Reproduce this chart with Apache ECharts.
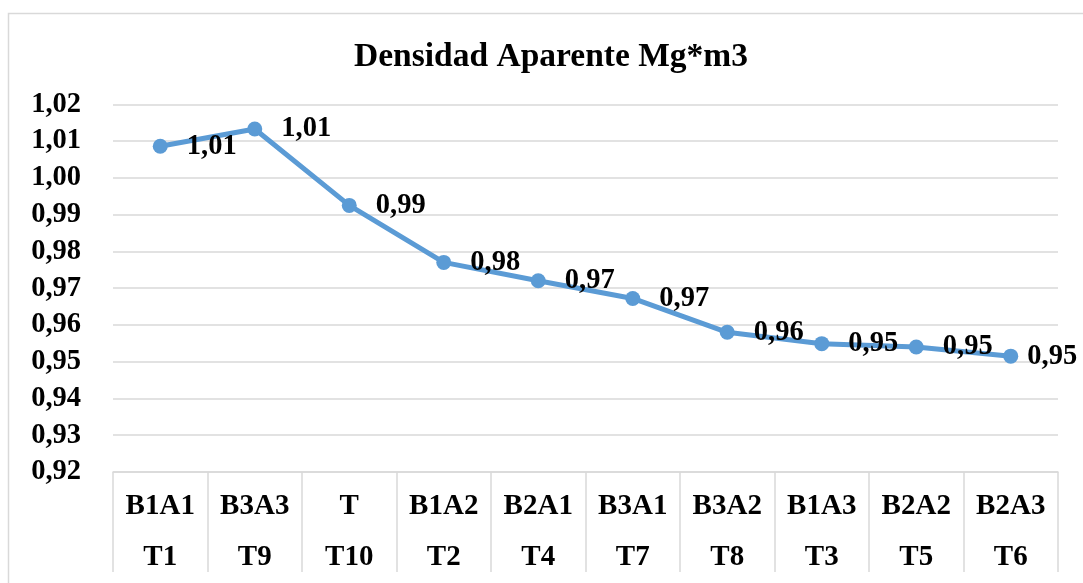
<!DOCTYPE html>
<html>
<head>
<meta charset="utf-8">
<script src="https://cdn.jsdelivr.net/npm/echarts@6/dist/echarts.min.js"></script>
<style>
html,body{margin:0;padding:0;background:#fff;}
#chart{width:1083px;height:583px;}
</style>
</head>
<body>
<div id="chart"></div>
<script>
const titleText = 'Densidad Aparente Mg*m3';
const treatments = ['B1A1','B3A3','T','B1A2','B2A1','B3A1','B3A2','B1A3','B2A2','B2A3'];
const codes = ['T1','T9','T10','T2','T4','T7','T8','T3','T5','T6'];
const density = [1.0086, 1.0133, 0.9925, 0.977, 0.972, 0.9672, 0.958, 0.9549, 0.954, 0.9515];
const yMin = 0.92, yMax = 1.02, yStep = 0.01;

const categories = treatments.map((t, i) => t + '\n' + codes[i]);
const fmt = v => v.toFixed(2).replace('.', ',');
const FONT = '"Liberation Serif", "Times New Roman", serif';

const seriesData = density.map((v, i) => i === density.length - 1
  ? {value: v, label: {distance: 9}}
  : v);

const chart = echarts.init(document.getElementById('chart'), null, {renderer: 'canvas'});
chart.setOption({
  backgroundColor: '#ffffff',
  animation: false,
  title: {
    text: titleText,
    left: 546,
    top: 35,
    textAlign: 'center',
    textStyle: {fontFamily: FONT, fontWeight: 'bold', fontSize: 33.5, color: '#000'}
  },
  graphic: [{
    type: 'rect',
    shape: {x: 8.5, y: 13.5, width: 1200, height: 700},
    style: {fill: 'none', stroke: '#d9d9d9', lineWidth: 1.5},
    silent: true
  }],
  grid: {left: 113, right: 25, top: 104.3, bottom: 105.2, containLabel: false},
  xAxis: {
    type: 'category',
    data: categories,
    boundaryGap: true,
    axisLine: {show: true, lineStyle: {color: '#d9d9d9', width: 1.5}},
    axisTick: {show: true, interval: 0, length: 100, lineStyle: {color: '#d9d9d9', width: 1.5}},
    axisLabel: {
      interval: 0, margin: 9, lineHeight: 51,
      fontFamily: FONT, fontWeight: 'bold', fontSize: 29, color: '#000'
    },
    splitLine: {show: false}
  },
  yAxis: {
    type: 'value',
    min: yMin, max: yMax, interval: yStep,
    axisLine: {show: false},
    axisTick: {show: false},
    axisLabel: {
      margin: 32, formatter: v => fmt(v),
      fontFamily: FONT, fontWeight: 'bold', fontSize: 28.5, color: '#000'
    },
    splitLine: {show: true, lineStyle: {color: '#d9d9d9', width: 1.5}}
  },
  series: [{
    type: 'line',
    data: seriesData,
    symbol: 'circle',
    symbolSize: 15,
    lineStyle: {color: '#5b9bd5', width: 5},
    itemStyle: {color: '#5b9bd5'},
    label: {
      show: true, position: 'right', distance: 19,
      formatter: p => fmt(p.value),
      fontFamily: FONT, fontWeight: 'bold', fontSize: 28.5, color: '#000'
    },
    z: 3
  }]
});
</script>
</body>
</html>
